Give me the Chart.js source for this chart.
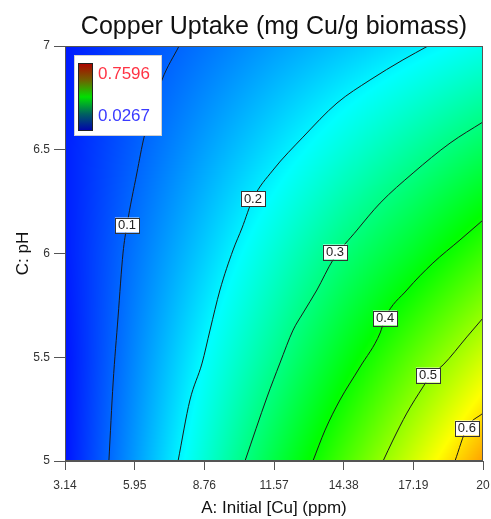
<!DOCTYPE html>
<html>
<head>
<meta charset="utf-8">
<title>Copper Uptake contour</title>
<script src="https://cdn.jsdelivr.net/npm/chart.js@4.4.1/dist/chart.umd.min.js"></script>
<style>
  html, body { margin: 0; padding: 0; background: #fff; }
  #wrap { width: 491px; height: 519px; }
</style>
</head>
<body>
<div id="wrap"><canvas id="chart" width="491" height="519"></canvas></div>
<script>
// Axis ticks (A: initial Cu in ppm, C: pH)
const xTicks = [3.14, 5.95, 8.76, 11.57, 14.38, 17.19, 20];
const yTicks = [5, 5.5, 6, 6.5, 7];

// Response at each tick crossing (rows = pH 5 .. 7)
const uptakeRows = [
  [0.040, 0.137, 0.239, 0.343, 0.444, 0.544, 0.645],
  [0.040, 0.124, 0.208, 0.288, 0.375, 0.460, 0.543],
  [0.047, 0.111, 0.174, 0.240, 0.307, 0.366, 0.434],
  [0.049, 0.095, 0.142, 0.188, 0.235, 0.281, 0.328],
  [0.045, 0.080, 0.110, 0.140, 0.167, 0.194, 0.222]
];
const colorMin = 0.0267;
const colorMax = 0.7596;

// Contour lines, [A, pH]
const contour01 = [[4.91, 5.0], [5.08, 5.376], [5.28, 5.694], [5.48, 6.002], [5.64, 6.137], [6.04, 6.388], [6.33, 6.561], [7.05, 6.836], [7.74, 7.0]];
const contour02 = [[7.70, 5.0], [8.18, 5.294], [8.67, 5.472], [8.99, 5.631], [9.39, 5.824], [9.92, 6.017], [10.28, 6.123], [10.72, 6.263], [11.53, 6.402], [12.74, 6.561], [14.11, 6.725], [15.44, 6.836], [16.77, 6.933], [17.78, 7.0]];
const contour03 = [[10.40, 5.0], [11.29, 5.308], [11.81, 5.472], [12.34, 5.631], [12.74, 5.713], [13.30, 5.824], [13.95, 5.969], [14.92, 6.113], [15.85, 6.243], [17.18, 6.388], [18.67, 6.532], [20.0, 6.634]];
const contour04 = [[13.14, 5.0], [13.63, 5.149], [14.23, 5.294], [15.04, 5.453], [15.85, 5.617], [16.05, 5.689], [16.93, 5.824], [17.98, 5.954], [19.07, 6.065], [20.0, 6.161]];
const contour05 = [[15.97, 5.0], [16.37, 5.101], [16.93, 5.231], [17.58, 5.357], [17.90, 5.414], [18.39, 5.463], [19.35, 5.598], [20.0, 5.689]];
const contour06 = [[18.87, 5.0], [19.35, 5.159], [20.0, 5.231]];

const contourLevels = ['0.1', '0.2', '0.3', '0.4', '0.5', '0.6'];
const contourLines = [contour01, contour02, contour03, contour04, contour05, contour06];
const labelAt = [[5.64, 6.137], [10.72, 6.263], [14.03, 6.007], [16.05, 5.689], [17.78, 5.414], [19.35, 5.159]];

const FONT = "'Liberation Sans', Arial, sans-serif";

function valueAt(x, y) {
  let i = 0;
  while (i < xTicks.length - 2 && x > xTicks[i + 1]) i++;
  let j = 0;
  while (j < yTicks.length - 2 && y > yTicks[j + 1]) j++;
  const tx = Math.min(1, Math.max(0, (x - xTicks[i]) / (xTicks[i + 1] - xTicks[i])));
  const ty = Math.min(1, Math.max(0, (y - yTicks[j]) / (yTicks[j + 1] - yTicks[j])));
  const v00 = uptakeRows[j][i], v10 = uptakeRows[j][i + 1];
  const v01 = uptakeRows[j + 1][i], v11 = uptakeRows[j + 1][i + 1];
  return v00 * (1 - tx) * (1 - ty) + v10 * tx * (1 - ty) + v01 * (1 - tx) * ty + v11 * tx * ty;
}

// blue -> cyan -> green -> yellow -> red
function jet(t) {
  t = Math.min(1, Math.max(0, t));
  if (t < 0.25) return [0, Math.round(255 * t / 0.25), 255];
  if (t < 0.5) return [0, 255, Math.round(255 * (1 - (t - 0.25) / 0.25))];
  if (t < 0.75) return [Math.round(255 * (t - 0.5) / 0.25), 255, 0];
  return [255, Math.round(255 * (1 - (t - 0.75) / 0.25)), 0];
}

const surfacePlugin = {
  id: 'surface',
  beforeDatasetsDraw(chart) {
    const { ctx, chartArea, scales } = chart;
    const w = Math.round(chartArea.right - chartArea.left);
    const h = Math.round(chartArea.bottom - chartArea.top);
    const off = document.createElement('canvas');
    off.width = w; off.height = h;
    const octx = off.getContext('2d');
    const img = octx.createImageData(w, h);
    for (let py = 0; py < h; py++) {
      const yv = scales.y.getValueForPixel(chartArea.top + py + 0.5);
      for (let px = 0; px < w; px++) {
        const xv = scales.x.getValueForPixel(chartArea.left + px + 0.5);
        const v = valueAt(xv, yv);
        const c = jet((v - colorMin) / (colorMax - colorMin));
        const k = (py * w + px) * 4;
        img.data[k] = c[0]; img.data[k + 1] = c[1]; img.data[k + 2] = c[2]; img.data[k + 3] = 255;
      }
    }
    octx.putImageData(img, 0, 0);
    ctx.drawImage(off, chartArea.left, chartArea.top);
  },
  afterDatasetsDraw(chart) {
    const { ctx, chartArea, scales } = chart;
    // contour labels
    ctx.save();
    ctx.font = '13px ' + FONT;
    ctx.textAlign = 'center';
    ctx.textBaseline = 'middle';
    labelAt.forEach(function(p, i) {
      const x = scales.x.getPixelForValue(p[0]);
      const y = scales.y.getPixelForValue(p[1]);
      const tw = ctx.measureText(contourLevels[i]).width + 6;
      ctx.fillStyle = '#fff';
      ctx.fillRect(x - tw / 2, y - 7.5, tw, 15);
      ctx.strokeStyle = '#333';
      ctx.lineWidth = 1;
      ctx.strokeRect(Math.round(x - tw / 2) + 0.5, Math.round(y - 7.5) + 0.5, Math.round(tw), 15);
      ctx.fillStyle = '#222';
      ctx.fillText(contourLevels[i], x, y + 0.5);
    });

    // colour key
    const bx = chartArea.left + 9, by = chartArea.top + 9;
    ctx.fillStyle = '#fff';
    ctx.fillRect(bx, by, 88, 81);
    ctx.strokeStyle = '#d0d0d0';
    ctx.strokeRect(bx + 0.5, by + 0.5, 87, 80);
    const g = ctx.createLinearGradient(0, by + 8, 0, by + 76);
    g.addColorStop(0, '#b00000');
    g.addColorStop(0.25, '#706000');
    g.addColorStop(0.5, '#00e000');
    g.addColorStop(0.75, '#006060');
    g.addColorStop(1, '#0000b0');
    ctx.fillStyle = g;
    ctx.fillRect(bx + 4, by + 8, 15, 68);
    ctx.strokeStyle = '#222';
    ctx.strokeRect(bx + 4.5, by + 8.5, 14, 67);
    ctx.font = '17px ' + FONT;
    ctx.textAlign = 'left';
    ctx.fillStyle = '#ff3344';
    ctx.fillText(colorMax.toFixed(4), bx + 24, by + 19);
    ctx.fillStyle = '#3a3aff';
    ctx.fillText(colorMin.toFixed(4), bx + 24, by + 61);

    // frame
    ctx.strokeStyle = '#555';
    ctx.lineWidth = 1;
    ctx.strokeRect(chartArea.left + 0.5, chartArea.top + 0.5, chartArea.right - chartArea.left - 1, chartArea.bottom - chartArea.top - 1);
    ctx.restore();
  }
};

const datasets = contourLines.map(function(line, i) {
  return {
    label: contourLevels[i],
    data: line.map(function(p) { return { x: p[0], y: p[1] }; }),
    showLine: true,
    borderColor: '#1a1a1a',
    borderWidth: 1,
    pointRadius: 0,
    cubicInterpolationMode: 'monotone'
  };
});

new Chart(document.getElementById('chart'), {
  type: 'scatter',
  data: { datasets: datasets },
  options: {
    responsive: false,
    animation: false,
    layout: { padding: 0 },
    plugins: {
      legend: { display: false },
      tooltip: { enabled: false },
      title: {
        display: true,
        fullSize: false,
        text: 'Copper Uptake (mg Cu/g biomass)',
        color: '#111',
        font: { family: FONT, size: 25, weight: 'normal' },
        padding: { top: 12, bottom: 4 }
      }
    },
    scales: {
      x: {
        type: 'linear',
        min: 3.14,
        max: 20,
        afterBuildTicks: function(s) { s.ticks = xTicks.map(function(v) { return { value: v }; }); },
        afterFit: function(s) { s.height = 58; s.paddingRight = 8; s.paddingLeft = 0; },
        grid: { drawOnChartArea: false, tickLength: 9, color: '#555' },
        border: { color: '#555' },
        ticks: {
          color: '#333',
          padding: 8,
          maxRotation: 0,
          font: { family: FONT, size: 12 },
          callback: function(v) { return String(v); }
        },
        title: {
          display: true,
          text: 'A: Initial [Cu] (ppm)',
          color: '#111',
          font: { family: FONT, size: 17 },
          padding: { top: 0, bottom: 0 }
        }
      },
      y: {
        type: 'linear',
        min: 5,
        max: 7,
        afterBuildTicks: function(s) { s.ticks = yTicks.map(function(v) { return { value: v }; }); },
        afterFit: function(s) { s.width = 65; },
        grid: { drawOnChartArea: false, tickLength: 11, color: '#555' },
        border: { color: '#555' },
        ticks: {
          color: '#333',
          padding: 4,
          font: { family: FONT, size: 12 },
          callback: function(v) { return String(v); }
        },
        title: {
          display: true,
          text: 'C: pH',
          color: '#111',
          font: { family: FONT, size: 17 },
          padding: { top: 13, bottom: 0 }
        }
      }
    }
  },
  plugins: [surfacePlugin]
});
</script>
</body>
</html>
